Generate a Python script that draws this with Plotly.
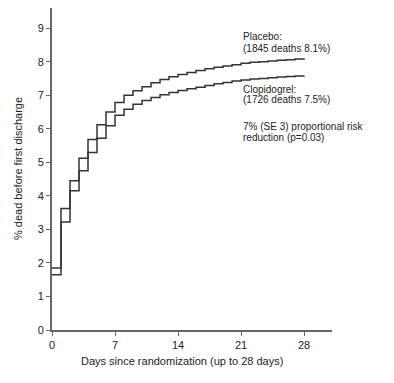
import plotly.graph_objects as go

days = list(range(0, 29))
placebo = [1.85, 3.62, 4.45, 5.12, 5.68, 6.12, 6.50, 6.78, 7.00, 7.13,
           7.25, 7.37, 7.47, 7.55, 7.62, 7.68, 7.74, 7.79, 7.83, 7.87,
           7.91, 7.95, 7.98, 8.00, 8.02, 8.04, 8.06, 8.08, 8.10]
clopidogrel = [1.65, 3.22, 4.15, 4.75, 5.29, 5.72, 6.09, 6.40, 6.58, 6.73,
               6.84, 6.93, 7.01, 7.08, 7.14, 7.19, 7.24, 7.29, 7.34, 7.38,
               7.42, 7.45, 7.48, 7.50, 7.52, 7.54, 7.56, 7.57, 7.58]
x_ticks = [0, 7, 14, 21, 28]
y_ticks = list(range(0, 10))

font = "Liberation Sans, Arial, sans-serif"
line_col = "#333333"

fig = go.Figure()
for name, vals in [("Placebo", placebo), ("Clopidogrel", clopidogrel)]:
    fig.add_trace(go.Scatter(x=days, y=vals, mode="lines", name=name,
                             line=dict(color=line_col, width=1.5, shape="hv")))

notes = [
    ("Placebo:", 8.75),
    ("(1845 deaths 8.1%)", 8.38),
    ("Clopidogrel:", 7.18),
    ("(1726 deaths 7.5%)", 6.86),
    ("7% (SE 3) proportional risk", 6.06),
    ("reduction (p=0.03)", 5.73),
]
for txt, yv in notes:
    fig.add_annotation(x=21.0, y=yv, xref="x", yref="y", text=txt,
                       showarrow=False, xanchor="left", yanchor="middle",
                       font=dict(family=font, size=10, color="#222"))

fig.add_annotation(x=14.45, y=0, xref="x", yref="paper", yshift=-31,
                   text="Days since randomization (up to 28 days)",
                   showarrow=False, xanchor="center", yanchor="middle",
                   font=dict(family=font, size=11, color="#222"))
fig.add_annotation(x=0, y=0.5, xref="paper", yref="paper", xshift=-34,
                   text="% dead before first discharge", textangle=-90,
                   showarrow=False, xanchor="center", yanchor="middle",
                   font=dict(family=font, size=11, color="#222"))

# page body has an 8px default margin, so the figure is sized/offset to compensate
fig.update_layout(
    width=386, height=375,
    margin=dict(l=44, r=62, t=0, b=53, autoexpand=False),
    paper_bgcolor="white", plot_bgcolor="white",
    showlegend=False,
    font=dict(family=font, size=11, color="#222"),
)
fig.update_xaxes(range=[0, 31.1], tickvals=x_ticks, showgrid=False, zeroline=False,
                 showline=True, linecolor="#666", linewidth=2, automargin=False,
                 ticks="outside", ticklen=4, tickcolor="#666", tickwidth=1,
                 tickfont=dict(family=font, size=11, color="#222"))
fig.update_yaxes(range=[0, 9.6], tickvals=y_ticks, showgrid=False, zeroline=False,
                 showline=True, linecolor="#666", linewidth=2, automargin=False,
                 ticks="outside", ticklen=4, tickcolor="#666", tickwidth=1,
                 tickfont=dict(family=font, size=11, color="#222"))

fig.write_html("out.html")
